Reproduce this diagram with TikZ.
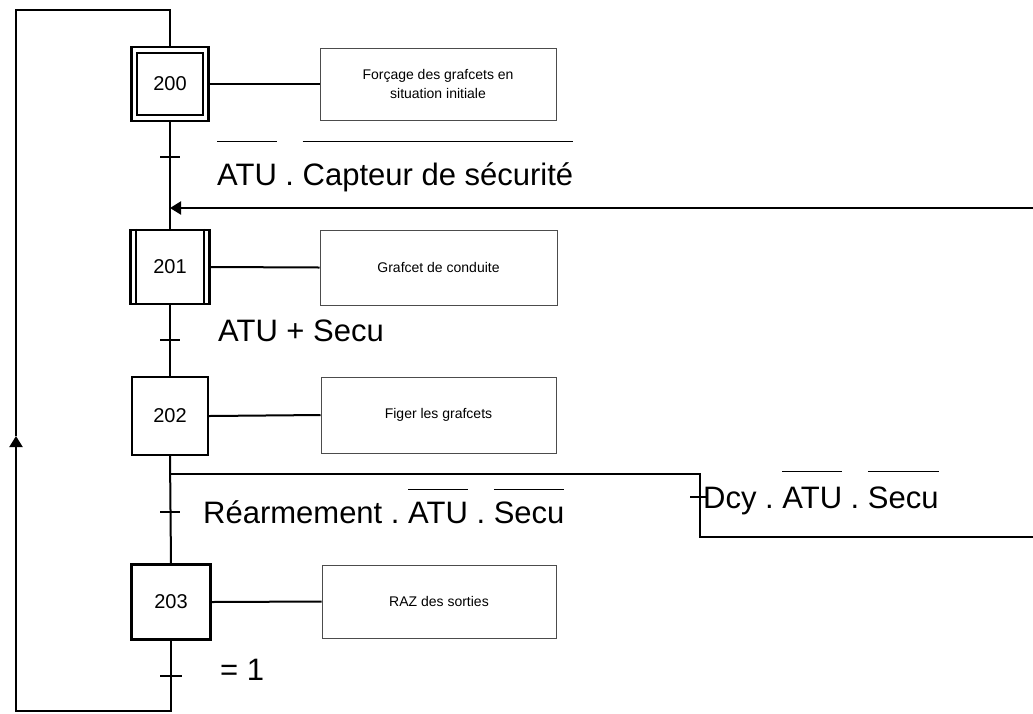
\documentclass[tikz,border=0pt]{standalone}
\usepackage{fontspec}
\setmainfont{Liberation Sans}
\usetikzlibrary{arrows.meta}
\frenchspacing
\newlength\obw
\newcommand\obar[2]{\settowidth\obw{#2}\rlap{\rule[#1]{\obw}{1.5pt}}#2}
\tikzset{
  stepbox/.style={draw, line width=2.4pt, inner sep=0pt, font=\fontsize{20}{24}\selectfont},
  actbox/.style={draw=black!70, line width=1pt, inner sep=0pt, align=center, font=\fontsize{14}{19}\selectfont},
  lbl/.style={anchor=base west, inner sep=0pt, font=\fontsize{31}{36}\selectfont},
  wire/.style={line width=2pt},
  tick/.style={line width=2pt},
  tip/.style={-{Triangle[length=11pt,width=13pt]}}
}
\begin{document}
\begin{tikzpicture}[x=1pt,y=-1pt]
\useasboundingbox (0,0) rectangle (1033,713);
% steps
\node[stepbox, minimum width=77pt, minimum height=74pt] (s200) at (170,84) {200};
\draw[line width=2.2pt] ([shift={(7,7)}]s200.north west) rectangle ([shift={(-7,-7)}]s200.south east);
\node[stepbox, minimum width=79pt, minimum height=74pt] (s201) at (170,267) {201};
\draw[line width=2.2pt] ([xshift=7pt]s201.north west) -- ([xshift=7pt]s201.south west);
\draw[line width=2.2pt] ([xshift=-7pt]s201.north east) -- ([xshift=-7pt]s201.south east);
\node[stepbox, minimum width=76pt, minimum height=78pt] (s202) at (170,416) {202};
\node[stepbox, minimum width=79pt, minimum height=75pt] (s203) at (171,602) {203};
% actions
\node[actbox, minimum width=236pt, minimum height=72pt] (a200) at (438,84) {Forçage des grafcets en\\situation initiale};
\node[actbox, minimum width=237pt, minimum height=75pt] (a201) at (438.5,267.5) {Grafcet de conduite};
\node[actbox, minimum width=235pt, minimum height=76pt] (a202) at (438.5,415) {Figer les grafcets};
\node[actbox, minimum width=234pt, minimum height=73pt] (a203) at (439,601.5) {RAZ des sorties};
\draw[wire] (s200.east) -- (a200.west);
\draw[wire] (s201.east) -- (a201.west);
\draw[wire] (s202.east) -- (a202.west);
\draw[wire] (s203.east) -- (a203.west);
% main line
\coordinate (t1) at (170,157);
\coordinate (j1) at (170,208);
\coordinate (t2) at (170,340);
\coordinate (d0) at (170,474);
\coordinate (t3) at (170,512);
\coordinate (t4) at (171,676);
\draw[wire] (s200.south) -- (s201.north);
\draw[wire] (s201.south) -- (s202.north);
\draw[wire] (s202.south) -- (s203.north);
% transitions
\draw[tick] ([xshift=-10pt]t1) -- ([xshift=10pt]t1);
\draw[tick] ([xshift=-10pt]t2) -- ([xshift=10pt]t2);
\draw[tick] ([xshift=-10pt]t3) -- ([xshift=10pt]t3);
\draw[tick] ([xshift=-11pt]t4) -- ([xshift=11pt]t4);
% arrow from right
\coordinate (rin) at (1033,208);
\draw[wire, tip] (rin) -- (j1);
% divergence
\coordinate (d1) at (700,474);
\coordinate (d2) at (700,537);
\coordinate (dout) at (1033,537);
\coordinate (td) at (700,497);
\draw[wire] (d0) -- (d1) -- (d2) -- (dout);
\draw[tick] ([xshift=-10pt]td) -- ([xshift=6pt]td);
% loop
\coordinate (l1) at (171,711);
\coordinate (l2) at (16,711);
\coordinate (la) at (16,436);
\coordinate (l3) at (16,10);
\coordinate (l4) at (170,10);
\draw[wire, tip] (s203.south) -- (l1) -- (l2) -- (la);
\draw[wire] (la) -- (l3) -- (l4) -- (s200.north);
% labels
\node[lbl] (c1) at (217,185) {\obar{43pt}{ATU} . \obar{43pt}{Capteur de sécurité}};
\node[lbl] (c2) at (218,341) {ATU + Secu};
\node[lbl] (c3) at (203,523) {Réarmement . \obar{33pt}{ATU} . \obar{33pt}{Secu}};
\node[lbl] (c4) at (703,508) {Dcy . \obar{36pt}{ATU} . \obar{36pt}{Secu}};
\node[lbl] (c5) at (220,680) {= 1};
\end{tikzpicture}
\end{document}
